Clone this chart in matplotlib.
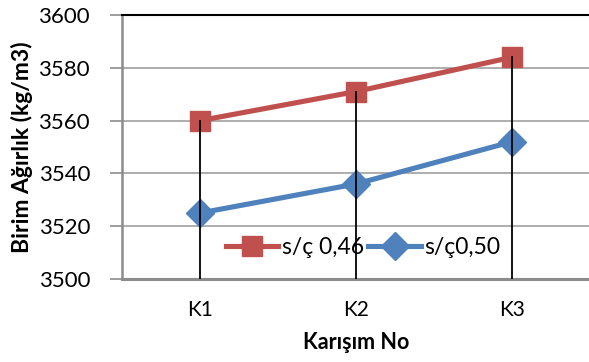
import matplotlib
matplotlib.use("Agg")
import matplotlib.pyplot as plt
import numpy as np

categories = ["K1", "K2", "K3"]
sc_046 = [3560, 3571, 3584]
sc_050 = [3525, 3536, 3552]
series_names = ["s/ç 0,46", "s/ç0,50"]
y_ticks = [3500, 3520, 3540, 3560, 3580, 3600]

plt.rcParams["font.family"] = ["Lato", "DejaVu Sans"]

fig = plt.figure(figsize=(5.89, 3.62), dpi=100)
ax = fig.add_axes([122 / 589, 1 - 279 / 362, 468 / 589, 264 / 362])

x = np.arange(len(categories))
red = "#C0504D"
blue = "#4F81BD"

for yv in y_ticks[1:-1]:
    ax.axhline(yv, color="#A0A0A0", lw=1.2, zorder=1)

ax.plot(x, sc_046, color=red, lw=3.7, marker="s", ms=14, mec=red, mfc=red,
        label=series_names[0], zorder=3)
ax.plot(x, sc_050, color=blue, lw=3.7, marker="D", ms=14, mec=blue, mfc=blue,
        label=series_names[1], zorder=3)

# drop lines from the higher series down to the axis
for xi, top in zip(x, np.maximum(sc_046, sc_050)):
    ax.plot([xi, xi], [y_ticks[0], top], color="black", lw=1.3, zorder=4)

ax.set_xlim(-0.5, 2.5)
ax.set_ylim(y_ticks[0], y_ticks[-1])
ax.set_yticks(y_ticks)
ax.set_xticks(x)
ax.set_xticklabels(categories)

ax.spines["right"].set_visible(False)
ax.spines["top"].set_color("black")
ax.spines["top"].set_linewidth(1.5)
ax.spines["left"].set_color("#8C8C8C")
ax.spines["left"].set_linewidth(1.8)
ax.spines["bottom"].set_color("#8C8C8C")
ax.spines["bottom"].set_linewidth(2.2)

ax.tick_params(axis="y", length=9, width=1.2, color="#8C8C8C", labelsize=16, pad=14)
ax.tick_params(axis="x", length=0, labelsize=15, pad=15)

ax.set_ylabel("Birim Ağırlık (kg/m3)", fontsize=16.5, fontweight="bold", labelpad=4)
ax.set_xlabel("Karışım No", fontsize=15.5, fontweight="bold", labelpad=9)

leg = ax.legend(loc="center", bbox_to_anchor=(0.515, 0.118), ncol=2, frameon=False,
                fontsize=16.5, handlelength=2.3, handletextpad=0.15, columnspacing=0.2,
                borderaxespad=0.0)
leg.set_zorder(5)

fig.savefig("out.png", dpi=100)
